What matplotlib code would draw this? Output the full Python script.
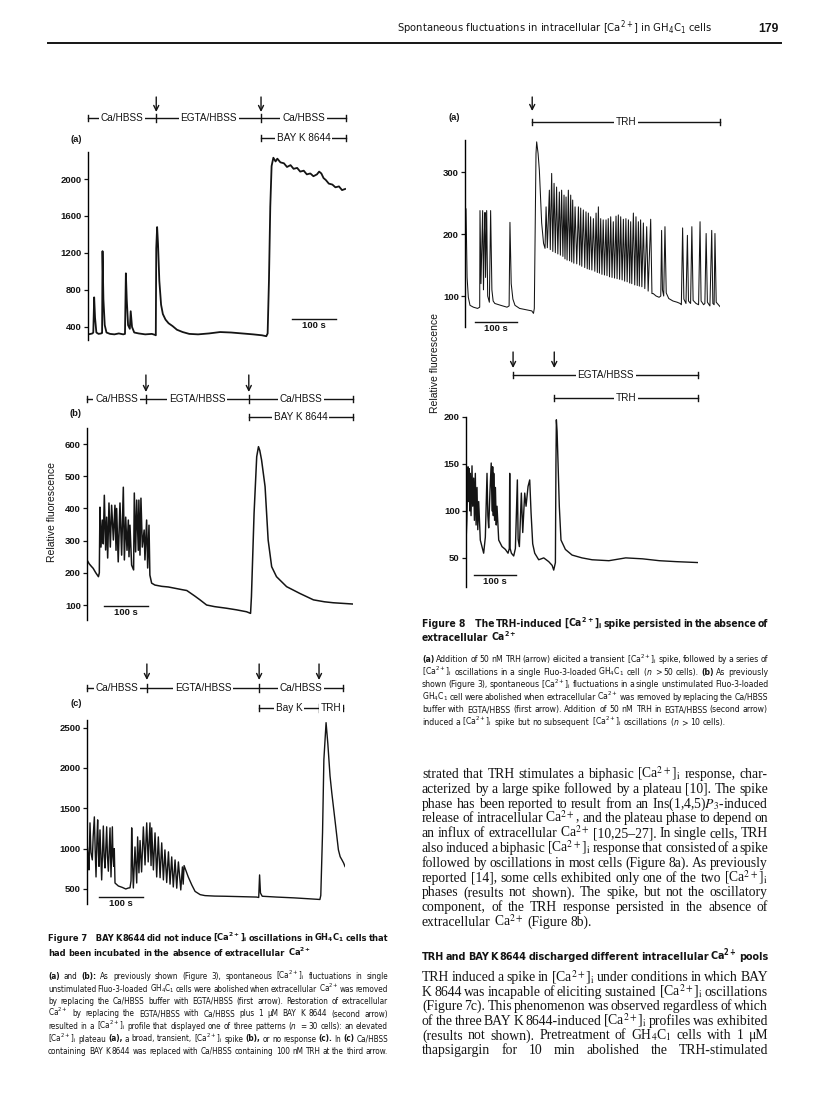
import numpy as np
import matplotlib
matplotlib.use("Agg")
import matplotlib.pyplot as plt
from matplotlib import font_manager as fm
from matplotlib.transforms import blended_transform_factory

W, H = 816, 1093
INK = "#141414"
SANS = "Liberation Sans"
SERIF = "Liberation Serif"

# pick a condensed sans for captions if one is installed
entries = fm.fontManager.ttflist
if any(f.name == "Liberation Sans Narrow" for f in entries):
    NARROW, STRETCH = "Liberation Sans Narrow", "normal"
elif any(f.name == "DejaVu Sans" and f.stretch in ("condensed", "semi-condensed") for f in entries):
    NARROW, STRETCH = "DejaVu Sans", "condensed"
else:
    NARROW, STRETCH = SANS, "normal"
MSPEC = NARROW + (":stretch=condensed" if STRETCH == "condensed" else "")

plt.rcParams.update({
    "font.family": SANS,
    "mathtext.fontset": "custom",
    "mathtext.rm": MSPEC,
    "mathtext.it": MSPEC + ":style=italic",
    "mathtext.bf": MSPEC + ":weight=bold",
})

# ---- traces, (time s, relative fluorescence) ----
trace_7a = [(0, 320), (6, 325), (10, 330), (12, 340), (14, 720), (16, 500), (19, 340), (24, 325),
            (30, 330), (32, 335), (33, 1220), (35, 700), (38, 420), (42, 340), (50, 325), (60, 320),
            (70, 330), (80, 320), (84, 325), (86, 980), (88, 700), (91, 420), (95, 380), (97, 570),
            (100, 400), (105, 340), (115, 330), (130, 320), (145, 325), (152, 315), (154, 310),
            (155, 1250), (157, 1480), (159, 1300), (162, 900), (166, 640), (170, 540), (176, 480),
            (183, 440), (192, 410), (202, 370), (215, 345), (230, 325), (250, 320), (275, 330),
            (300, 345), (325, 340), (350, 330), (375, 320), (395, 310), (405, 300), (408, 330),
            (411, 900), (414, 1700), (417, 2140), (421, 2230), (426, 2190), (430, 2220), (437, 2180),
            (445, 2170), (452, 2130), (460, 2150), (467, 2110), (475, 2120), (482, 2080), (490, 2090),
            (497, 2050), (505, 2060), (512, 2030), (520, 2050), (525, 2080), (530, 2060), (535, 2010),
            (540, 1990), (547, 1950), (555, 1940), (562, 1910), (570, 1920), (577, 1880), (584, 1892)]

trace_7b = [(0, 240), (5, 228), (10, 220), (14, 214), (20, 200), (26, 188), (28, 200),
            (29.5, 404), (31.8, 280), (34.8, 364), (37, 290), (39.4, 441), (42.4, 271), (44.7, 373),
            (47, 246), (50, 417), (53, 280), (56, 410), (60, 302), (63.6, 410), (66, 270), (67.4, 400),
            (71, 234), (75, 417), (78.8, 255), (82.6, 466), (85, 240), (88, 373), (91, 270), (94, 364),
            (95.5, 250), (97.7, 348), (101.5, 224), (106, 209), (107.6, 448), (110.6, 265), (113, 426),
            (116.7, 270), (118, 426), (120.5, 255), (122.7, 432), (125.8, 280), (130, 333), (131.8, 240),
            (135.6, 364), (138, 215), (141, 348), (143, 193), (147, 168), (154.5, 162), (170, 158),
            (185, 156), (200, 152), (215, 148), (227, 145), (245, 128), (257, 116), (272, 100),
            (290, 95), (317, 90), (340, 85), (363, 79), (372, 74), (374, 126), (380, 385), (386, 561),
            (390, 592), (393, 580), (397, 551), (405, 468), (412, 302), (420, 219), (431, 188),
            (454, 157), (484, 136), (515, 116), (540, 110), (560, 107), (605, 103)]

trace_7c = [(0, 1068), (3, 900), (4.5, 736), (6.8, 1319), (9, 950), (12.1, 860), (14, 1150),
            (16.7, 1393), (18.5, 1000), (20.5, 649), (22.5, 1100), (24.2, 1356), (26, 950), (27.3, 780),
            (29.5, 1232), (31.5, 900), (33.3, 612), (37.1, 1280), (39, 900), (40.9, 760), (44.7, 1270),
            (46.5, 900), (48.5, 720), (52.3, 1257), (54.5, 649), (57.6, 1270), (59, 900), (60.6, 780),
            (62, 1000), (63.6, 574), (71.2, 537), (80, 520), (88, 500), (94, 512), (97.7, 515),
            (100, 600), (101.5, 1257), (103.5, 800), (105.3, 512), (109, 1021), (112.9, 574),
            (115, 1145), (118, 700), (120.5, 1100), (124, 711), (128, 1269), (131.8, 798), (135.6, 1319),
            (139, 835), (143, 1319), (145.5, 790), (147, 1257), (150.8, 736), (154.5, 1195), (158.3, 649),
            (162, 1145), (166, 640), (169.7, 1071), (173.5, 612), (177, 984), (181, 580), (185, 960),
            (188.6, 560), (192.4, 897), (196, 525), (200, 860), (203.8, 510), (207.6, 835), (213, 488),
            (216.7, 773), (218.5, 560), (220.5, 790), (230, 649), (238, 550), (245.5, 470), (257, 430),
            (268, 418), (290, 412), (313, 410), (350, 405), (385, 400), (390, 395), (392, 674),
            (394, 450), (398, 410), (430, 400), (470, 390), (500, 380), (529, 370), (531, 420),
            (535, 1200), (538, 2100), (543, 2560), (547, 2300), (552, 1900), (556, 1691), (564, 1317),
            (571, 985), (575, 900), (579, 861), (583, 820), (586, 778)]

trace_8a = [(0, 241), (2.4, 241), (5, 130), (7.9, 98), (11.9, 85), (20, 82), (30, 80), (35, 82),
            (35.7, 238), (38, 120), (40, 180), (42, 238), (44, 110), (46, 200), (47.6, 235), (49, 130),
            (51.6, 238), (54, 100), (58, 90), (61, 238), (64, 110), (67, 92), (71, 88), (85, 85),
            (100, 82), (105, 84), (107, 219), (110, 120), (114, 95), (119, 85), (130, 80), (145, 78),
            (159, 76), (163, 72), (165, 80), (167, 200), (169, 330), (170.6, 349), (174, 330),
            (177, 303), (182.5, 218), (187, 185), (190.5, 177), (193, 244), (196, 178), (200.8, 271),
            (203, 175), (206.3, 298), (209, 172), (212, 282), (215, 170), (218, 276), (221, 168),
            (224.6, 268), (227, 166), (230, 271), (233, 164), (235.7, 263), (238, 160), (240.5, 260),
            (243, 158), (246, 271), (249, 157), (251.6, 263), (254, 155), (256.3, 255), (259, 153),
            (262, 244), (266, 152), (270, 244), (273, 150), (275.4, 242), (278, 148), (281.7, 239),
            (285, 146), (288, 236), (291, 144), (293.6, 234), (296, 143), (299, 228), (302, 142),
            (305.6, 225), (309, 140), (312, 234), (315, 138), (317.5, 244), (320, 137), (323, 225),
            (326, 135), (329, 223), (332, 134), (335.7, 223), (338, 133), (341, 225), (344, 131),
            (346.8, 228), (350, 130), (353, 220), (356, 129), (359.5, 229), (362, 128), (365, 231),
            (368, 127), (370.6, 228), (374, 126), (377, 224), (380, 124), (383, 225), (386, 123),
            (389, 223), (392, 121), (394.4, 220), (397, 120), (400.8, 234), (404, 118), (407, 228),
            (410, 117), (412.7, 220), (415, 116), (418, 223), (421, 115), (424.6, 218), (428, 112),
            (432.5, 212), (436, 108), (442, 224), (445, 104), (448, 104), (455, 100), (462, 98),
            (466, 100), (468, 206), (470, 110), (473, 100), (476, 212), (479, 105), (485, 96),
            (495, 92), (505, 90), (512, 88), (515, 86), (518, 210), (521, 95), (526, 88), (529.4, 198),
            (532, 92), (537, 88), (540, 212), (543, 93), (550, 88), (556, 86), (559.5, 220), (562, 92),
            (568, 86), (571, 88), (574, 201), (577, 90), (583, 84), (587.3, 206), (590, 88), (593, 86),
            (595, 201), (598, 90), (603, 86), (607, 83)]

trace_8b = [(0, 66), (2, 90), (4.8, 147), (6, 110), (7.5, 145), (9, 100), (10.3, 140), (12, 95),
            (14.3, 148), (16, 105), (18.3, 135), (20, 90), (22.2, 140), (24, 85), (26.2, 125), (28, 80),
            (30.2, 110), (34, 69), (38, 62), (42, 55), (46, 72), (50, 140), (52, 95), (54, 82),
            (57, 120), (60, 151), (62, 100), (63.5, 147), (65, 95), (66, 140), (68, 90), (70, 125),
            (72, 85), (73.8, 105), (77.8, 69), (85.7, 62), (93.7, 59), (100, 55), (103, 60), (104, 140),
            (105, 60), (108, 55), (113.5, 52), (117.5, 60), (122.2, 133), (124, 70), (127, 62),
            (131.7, 119), (135, 77), (139.7, 119), (142.9, 105), (147.6, 126), (151.6, 133),
            (154.8, 98), (158.7, 65), (163.5, 55), (173, 48), (185, 50), (196.8, 46), (205, 42),
            (208.7, 37), (212.7, 45), (214, 150), (215, 197), (216.7, 185), (219, 151), (222, 105),
            (226, 69), (236.5, 59), (252.4, 53), (276, 50), (300, 48), (340, 47), (380, 50),
            (420, 49), (460, 47), (500, 46), (553, 45)]

ticks_7a = [400, 800, 1200, 1600, 2000]
ticks_7b = [100, 200, 300, 400, 500, 600]
ticks_7c = [500, 1000, 1500, 2000, 2500]
ticks_8a = [100, 200, 300]
ticks_8b = [50, 100, 150, 200]

# ---- text ----
HEADER = "Spontaneous fluctuations in intracellular [Ca$^{2+}$] in GH$_4$C$_1$ cells"
PAGE = "179"
T7 = ["Figure~7~~~BAY K 8644 did not induce @CAi oscillations in @GH cells that",
      "had been incubated in the absence of extracellular @CA"]
L7 = ["*(a) and *(b): As previously shown (Figure 3), spontaneous @CAi fluctuations in single",
      "unstimulated Fluo-3-loaded @GH cells were abolished when extracellular @CA was removed",
      "by replacing the Ca/HBSS buffer with EGTA/HBSS (first arrow). Restoration of extracellular",
      "@CA by replacing the EGTA/HBSS with Ca/HBSS plus 1 μM BAY K 8644 (second arrow)",
      "resulted in a @CAi profile that displayed one of three patterns ($n$ = 30 cells): an elevated",
      "@CAi plateau *(a), a broad, transient, @CAi spike *(b), or no response *(c). In *(c) Ca/HBSS",
      "containing BAY K 8644 was replaced with Ca/HBSS containing 100 nM TRH at the third arrow."]
T8 = ["Figure~8~~~The TRH-induced @CAi spike persisted in the absence of",
      "extracellular @CA"]
L8 = ["*(a) Addition of 50 nM TRH (arrow) elicited a transient @CAi spike, followed by a series of",
      "@CAi oscillations in a single Fluo-3-loaded @GH cell ($n$ > 50 cells). *(b) As previously",
      "shown (Figure 3), spontaneous @CAi fluctuations in a single unstimulated Fluo-3-loaded",
      "@GH cell were abolished when extracellular @CA was removed by replacing the Ca/HBSS",
      "buffer with EGTA/HBSS (first arrow). Addition of 50 nM TRH in EGTA/HBSS (second arrow)",
      "induced a @CAi spike but no subsequent @CAi oscillations ($n$ > 10 cells)."]
P1 = ["strated that TRH stimulates a biphasic @CAi response, char-",
      "acterized by a large spike followed by a plateau [10]. The spike",
      "phase has been reported to result from an Ins(1,4,5)$P_3$-induced",
      "release of intracellular @CA, and the plateau phase to depend on",
      "an influx of extracellular @CA [10,25–27]. In single cells, TRH",
      "also induced a biphasic @CAi response that consisted of a spike",
      "followed by oscillations in most cells (Figure 8a). As previously",
      "reported [14], some cells exhibited only one of the two @CAi",
      "phases (results not shown). The spike, but not the oscillatory",
      "component, of the TRH response persisted in the absence of",
      "extracellular @CA (Figure 8b)."]
HEAD2 = ["TRH and BAY K 8644 discharged different intracellular @CA pools"]
P2 = ["TRH induced a spike in @CAi under conditions in which BAY",
      "K 8644 was incapable of eliciting sustained @CAi oscillations",
      "(Figure 7c). This phenomenon was observed regardless of which",
      "of the three BAY K 8644-induced @CAi profiles was exhibited",
      "(results not shown). Pretreatment of @GH cells with 1 μM",
      "thapsigargin for 10 min abolished the TRH-stimulated"]

SUB = {"@CAi": r"[Ca$^{2+}$]$_\mathrm{i}$", "@CA": r"Ca$^{2+}$", "@GH": r"GH$_4$C$_1$"}
SUBB = {"@CAi": r"[Ca$^\mathbf{2+}$]$_\mathbf{i}$", "@CA": r"Ca$^\mathbf{2+}$",
        "@GH": r"GH$_\mathbf{4}$C$_\mathbf{1}$"}

fig = plt.figure(figsize=(W / 100, H / 100), dpi=100)
ov = fig.add_axes([0, 0, 1, 1])
ov.set_xlim(0, W)
ov.set_ylim(H, 0)
ov.axis("off")
ov.patch.set_visible(False)
ov.set_autoscale_on(False)
R = fig.canvas.get_renderer()


def panel(box, xlim, ylim, ticks, data, lw=1.2):
    x0, y0, x1, y1 = box
    ax = fig.add_axes([x0 / W, 1 - y1 / H, (x1 - x0) / W, (y1 - y0) / H])
    ax.patch.set_visible(False)
    t, v = np.array(data).T
    ax.plot(t, v, color=INK, lw=lw, solid_joinstyle="round")
    ax.set_xlim(*xlim)
    ax.set_ylim(*ylim)
    for s in ("top", "right", "bottom"):
        ax.spines[s].set_visible(False)
    ax.spines["left"].set_linewidth(1.0)
    ax.set_xticks([])
    ax.set_yticks(ticks)
    ax.tick_params(axis="y", length=3, width=0.9, pad=1.5, labelsize=6.8, colors=INK)
    for lab in ax.get_yticklabels():
        lab.set_fontweight("bold")
    return ax


def scalebar(ax, t0, v):
    ax.plot([t0, t0 + 100], [v, v], color=INK, lw=1.0, clip_on=False)
    ax.annotate("100 s", xy=(t0 + 50, v), xytext=(0, -1.5), textcoords="offset points",
                ha="center", va="top", fontsize=6.8, weight="bold", color=INK)


def bar(ax, y, edges, labels):
    tr = blended_transform_factory(ax.transData, ov.transData)
    ov.plot([edges[0], edges[-1]], [y, y], transform=tr, color=INK, lw=1.0, clip_on=False)
    for i, e in enumerate(edges):
        h = 3 if i in (0, len(edges) - 1) else 4
        ov.plot([e, e], [y - h, y + h], transform=tr, color=INK, lw=1.0, clip_on=False)
    for a, b, lab in zip(edges[:-1], edges[1:], labels):
        ov.text((a + b) / 2, y, lab, transform=tr, ha="center", va="center", fontsize=7.2,
                color=INK, bbox=dict(fc="white", ec="none", pad=1.2))


def arrows(ax, y0, y1, times):
    tr = blended_transform_factory(ax.transData, ov.transData)
    for t in times:
        ov.annotate("", xy=(t, y1), xytext=(t, y0), xycoords=tr, textcoords=tr,
                    arrowprops=dict(arrowstyle="->", lw=1.0, color=INK, shrinkA=0, shrinkB=0,
                                    mutation_scale=9))


def sub(line, table):
    for k in ("@CAi", "@CA", "@GH"):
        line = line.replace(k, table[k])
    return line


def measure(tokens, size, family, stretch, weight, mfam, table):
    objs, ws = [], []
    for tok in tokens:
        w = weight
        tb = table
        if tok.startswith("*"):
            tok, w, tb = tok[1:], "bold", SUBB
        tx = ov.text(0, 0, sub(tok, tb).replace("~", " "), fontsize=size, family=family,
                     fontstretch=stretch, weight=w, math_fontfamily=mfam, va="baseline",
                     ha="left", color=INK)
        objs.append(tx)
        ws.append(tx.get_window_extent(R).width)
    return objs, ws


def block(lines, x0, x1, y0, dy, size, family=NARROW, stretch=STRETCH, weight="normal",
          mfam="custom", ragged_last=True, table=SUB):
    # justified block, one font size, shrunk only if the tightest line would not fit
    width = x1 - x0
    for attempt in range(4):
        rows = [measure(l.split(" "), size, family, stretch, weight, mfam, table) for l in lines]
        em = size * 100 / 72
        natural = 0
        for i, (_, ws) in enumerate(rows):
            g = 0.25 if (ragged_last and i == len(rows) - 1) else 0.14
            natural = max(natural, sum(ws) + g * em * (len(ws) - 1))
        if natural <= width or attempt == 3:
            break
        for objs, _ in rows:
            for o in objs:
                o.remove()
        size *= width / natural
    sp = 0.25 * size * 100 / 72
    for i, (objs, ws) in enumerate(rows):
        ragged = ragged_last and i == len(rows) - 1
        gap = sp if (ragged or len(objs) < 2) else (width - sum(ws)) / (len(objs) - 1)
        x = x0
        for o, w in zip(objs, ws):
            o.set_position((x, y0 + i * dy))
            x += w + gap


# ---- header ----
ov.text(712, 32, HEADER, ha="right", va="baseline", fontsize=8.0, family=NARROW,
        fontstretch=STRETCH, color=INK)
ov.text(779, 32, PAGE, ha="right", va="baseline", fontsize=8.8, weight="bold", color=INK)
ov.plot([48, 781], [43, 43], color=INK, lw=1.4)

# ---- Figure 7 ----
a7 = panel((88, 152, 346, 340), (0, 586), (259, 2292), ticks_7a, trace_7a, lw=1.3)
arrows(a7, 97, 112, [155, 393])
bar(a7, 118, [0, 155, 393, 586], ["Ca/HBSS", "EGTA/HBSS", "Ca/HBSS"])
bar(a7, 138, [393, 586], ["BAY K 8644"])
scalebar(a7, 464, 486)
ov.text(76, 140, "(a)", ha="center", va="center", fontsize=6.8, weight="bold", color=INK)

b7 = panel((87, 428, 353, 620), (0, 605), (53.4, 650), ticks_7b, trace_7b, lw=1.1)
arrows(b7, 375, 392, [134, 368])
bar(b7, 399, [0, 134, 368, 605], ["Ca/HBSS", "EGTA/HBSS", "Ca/HBSS"])
bar(b7, 417, [368, 605], ["BAY K 8644"])
scalebar(b7, 39, 97)
ov.text(76, 413, "(b)", ha="center", va="center", fontsize=6.8, weight="bold", color=INK)
ov.text(52, 512, "Relative fluorescence", rotation=90, ha="center", va="center", fontsize=7.5,
        color=INK)

c7 = panel((87, 720, 345, 904), (0, 586), (314, 2593), ticks_7c, trace_7c, lw=1.0)
arrows(c7, 664, 680, [136, 391, 527])
bar(c7, 688, [0, 136, 391, 582], ["Ca/HBSS", "EGTA/HBSS", "Ca/HBSS"])
bar(c7, 708, [391, 527, 582], ["Bay K", "TRH"])
scalebar(c7, 27, 400)
ov.text(76, 703, "(c)", ha="center", va="center", fontsize=6.8, weight="bold", color=INK)

block(T7, 48, 388, 941, 15, 8.6, weight="bold", table=SUBB)
block(L7, 48, 388, 979, 12.5, 7.3, ragged_last=False)

# ---- Figure 8 ----
a8 = panel((465, 140, 720, 327), (0, 607), (50, 352), ticks_8a, trace_8a, lw=0.75)
arrows(a8, 97, 111, [160])
bar(a8, 122, [160, 607], ["TRH"])
scalebar(a8, 24, 58)
ov.text(454, 117, "(a)", ha="center", va="center", fontsize=6.8, weight="bold", color=INK)

b8 = panel((466, 417, 698, 587), (0, 552), (19, 200), ticks_8b, trace_8b, lw=1.0)
arrows(b8, 352, 368, [112, 210])
bar(b8, 375, [112, 553], ["EGTA/HBSS"])
bar(b8, 398, [210, 553], ["TRH"])
scalebar(b8, 19, 32)
ov.text(435, 363, "Relative fluorescence", rotation=90, ha="center", va="center", fontsize=7.5,
        color=INK)

block(T8, 422, 768, 627, 14, 8.6, weight="bold", table=SUBB)
block(L8, 422, 768, 662, 12.6, 7.3)

# ---- body text ----
block(P1, 422, 768, 778, 14.8, 10.2, family=SERIF, stretch="normal", mfam="stix")
block(HEAD2, 422, 768, 960, 14, 8.8, weight="bold", ragged_last=False, table=SUBB)
block(P2, 422, 768, 981, 14.6, 10.2, family=SERIF, stretch="normal", mfam="stix",
      ragged_last=False)

fig.savefig("out.png", dpi=100)
